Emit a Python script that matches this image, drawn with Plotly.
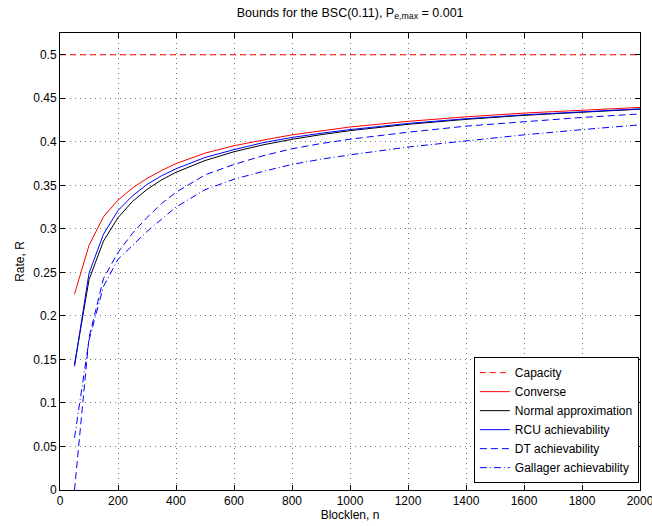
import plotly.graph_objects as go

# Blocklength grid
n = [50, 100, 150, 200, 250, 300, 350, 400, 500, 600, 700, 800, 900, 1000,
     1200, 1400, 1600, 1800, 2000]

capacity_n = [0, 2000]
capacity = [0.5, 0.5]

converse = [0.225, 0.281, 0.314, 0.333, 0.347, 0.358, 0.367, 0.375, 0.387, 0.3955,
            0.402, 0.408, 0.4125, 0.417, 0.4235, 0.4287, 0.433, 0.4365, 0.4395]
normal_approx = [0.144, 0.2416, 0.286, 0.3129, 0.3315, 0.3453, 0.3562, 0.365, 0.3785,
                 0.3886, 0.3965, 0.4029, 0.4082, 0.4128, 0.4201, 0.4258, 0.4304,
                 0.4343, 0.4375]
rcu = [0.142, 0.249, 0.294, 0.321, 0.338, 0.351, 0.361, 0.369, 0.382, 0.391,
       0.399, 0.405, 0.4098, 0.414, 0.4211, 0.4265, 0.431, 0.4347, 0.4378]
dt = [0.0, 0.175, 0.243, 0.273, 0.295, 0.313, 0.329, 0.342, 0.362, 0.374,
      0.384, 0.392, 0.398, 0.403, 0.411, 0.418, 0.423, 0.428, 0.432]
gallager = [0.06, 0.172, 0.234, 0.265, 0.281, 0.297, 0.311, 0.325, 0.345, 0.357,
            0.366, 0.374, 0.380, 0.385, 0.394, 0.401, 0.408, 0.414, 0.4195]

x_ticks = list(range(0, 2001, 200))
y_ticks = [0, 0.05, 0.1, 0.15, 0.2, 0.25, 0.3, 0.35, 0.4, 0.45, 0.5]
y_tick_labels = ["0", "0.05", "0.1", "0.15", "0.2", "0.25", "0.3", "0.35", "0.4", "0.45", "0.5"]

FONT = "Liberation Sans, Arial, Helvetica, sans-serif"

fig = go.Figure()
fig.add_trace(go.Scatter(x=capacity_n, y=capacity, mode="lines", name="Capacity",
                         line=dict(color="#ff0000", width=1, dash="6px,4px")))
fig.add_trace(go.Scatter(x=n, y=converse, mode="lines", name="Converse",
                         line=dict(color="#ff0000", width=1)))
fig.add_trace(go.Scatter(x=n, y=normal_approx, mode="lines", name="Normal approximation",
                         line=dict(color="#000000", width=1)))
fig.add_trace(go.Scatter(x=n, y=rcu, mode="lines", name="RCU achievability",
                         line=dict(color="#0000ff", width=1)))
fig.add_trace(go.Scatter(x=n, y=dt, mode="lines", name="DT achievability",
                         line=dict(color="#0000ff", width=1, dash="7px,4px")))
fig.add_trace(go.Scatter(x=n, y=gallager, mode="lines", name="Gallager achievability",
                         line=dict(color="#0000ff", width=1, dash="7px,3px,1px,3px")))

axis_common = dict(
    showline=True, linecolor="black", linewidth=1, mirror="ticks",
    ticks="inside", ticklen=5, tickcolor="black",
    showgrid=True, gridcolor="#777777", griddash="1px,4px", gridwidth=1,
    zeroline=False, automargin=False, ticklabeloverflow="allow",
    tickfont=dict(family=FONT, size=12, color="black"),
)

fig.update_layout(
    width=652, height=526,
    margin=dict(l=60, r=12, t=33, b=36),
    paper_bgcolor="white", plot_bgcolor="white",
    font=dict(family=FONT, size=12, color="black"),
    title=dict(text="Bounds for the BSC(0.11), P<sub>e,max</sub> = 0.001",
               x=0.537, xanchor="center", y=0.985, yanchor="top",
               font=dict(family=FONT, size=12.5, color="black")),
    xaxis=dict(range=[0, 2000], tickvals=x_ticks,
               title=dict(text="Blocklen, n", standoff=2,
                          font=dict(family=FONT, size=12)),
               **axis_common),
    yaxis=dict(range=[0, 0.525], tickvals=y_ticks, ticktext=y_tick_labels,
               title=dict(text="Rate, R", standoff=6,
                          font=dict(family=FONT, size=12)),
               **axis_common),
    legend=dict(x=0.998, xanchor="right", y=0.015, yanchor="bottom",
                bgcolor="white", bordercolor="black", borderwidth=1,
                font=dict(family=FONT, size=12, color="black"),
                tracegroupgap=0),
    showlegend=True,
)

fig.write_html("out.html")
